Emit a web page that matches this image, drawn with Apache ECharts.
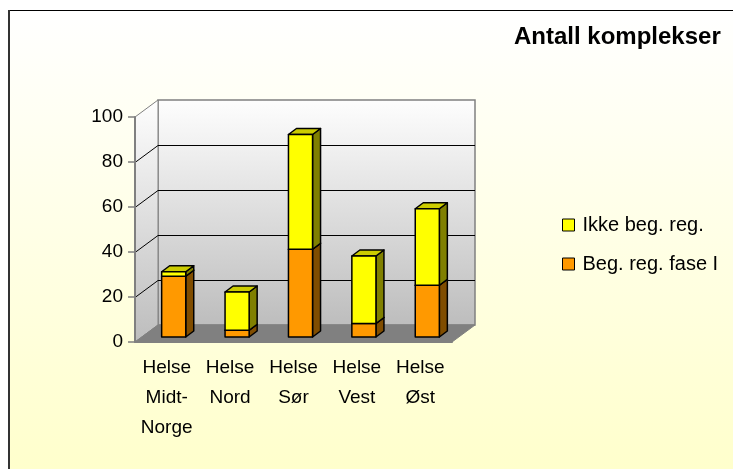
<!DOCTYPE html>
<html>
<head>
<meta charset="utf-8">
<script src="https://cdn.jsdelivr.net/npm/echarts@6/dist/echarts.min.js"></script>
<style>
  html, body { margin: 0; padding: 0; background: #fff; }
  #chart { width: 733px; height: 469px; }
</style>
</head>
<body>
<div id="chart"></div>
<script>
const categories = ['Helse\nMidt-\nNorge', 'Helse\nNord', 'Helse\nSør', 'Helse\nVest', 'Helse\nØst']
const begRegFase1 = [27, 3, 39, 6, 23]
const ikkeBegReg = [2, 17, 51, 30, 34]
const yTicks = [0, 20, 40, 60, 80, 100]

const FONT = "'Liberation Sans', Arial, sans-serif"
// depth of the 3d box (px) and where the bars sit inside it
const DX = 23, DY = -17
const FX = 7, FY = -5
const BDX = 8, BDY = -6

const wallFill = () => new echarts.graphic.LinearGradient(0, 0, 0, 1, [
  { offset: 0, color: '#fefefe' },
  { offset: 1, color: '#bdbdbd' }
])

function renderWalls (params, api) {
  const cs = params.coordSys
  const x0 = cs.x, x1 = cs.x + cs.width
  const yT = cs.y, yB = cs.y + cs.height
  const children = []
  children.push({
    type: 'rect',
    shape: { x: x0 + DX, y: yT + DY, width: cs.width, height: cs.height },
    style: { fill: wallFill(), stroke: '#808080', lineWidth: 1.5 }
  })
  children.push({
    type: 'polygon',
    shape: { points: [[x0, yT], [x0 + DX, yT + DY], [x0 + DX, yB + DY], [x0, yB]] },
    style: { fill: wallFill(), stroke: '#808080', lineWidth: 1 }
  })
  children.push({
    type: 'polygon',
    shape: { points: [[x0, yB], [x1, yB], [x1 + DX, yB + DY], [x0 + DX, yB + DY]] },
    style: { fill: '#808080', stroke: '#808080', lineWidth: 1 }
  })
  yTicks.forEach(v => {
    if (v === yTicks[0] || v === yTicks[yTicks.length - 1]) return
    const y = Math.round(api.coord([0, v])[1]) + 0.5
    children.push({
      type: 'polyline',
      shape: { points: [[x0, y], [x0 + DX, y + DY], [x1 + DX, y + DY]] },
      style: { fill: null, stroke: '#000', lineWidth: 1 }
    })
  })
  return { type: 'group', children }
}

function makeBarRenderer (front, side, top) {
  return function (params, api) {
    const cat = api.value(0), base = api.value(1), val = api.value(2)
    const p0 = api.coord([cat, base])
    const p1 = api.coord([cat, base + val])
    const bw = api.size([1, 0])[0] * 0.38
    const cx = p0[0] + FX
    const l = cx - bw / 2, r = cx + bw / 2
    const yb = p0[1] + FY, yt = p1[1] + FY
    const st = { stroke: '#000', lineWidth: 1.5, lineJoin: 'round' }
    return {
      type: 'group',
      children: [
        { type: 'polygon', shape: { points: [[r, yb], [r + BDX, yb + BDY], [r + BDX, yt + BDY], [r, yt]] }, style: Object.assign({ fill: side }, st) },
        { type: 'polygon', shape: { points: [[l, yt], [r, yt], [r + BDX, yt + BDY], [l + BDX, yt + BDY]] }, style: Object.assign({ fill: top }, st) },
        { type: 'rect', shape: { x: l, y: yt, width: bw, height: yb - yt }, style: Object.assign({ fill: front }, st) }
      ]
    }
  }
}

const orangeData = begRegFase1.map((v, i) => [i, 0, v])
const yellowData = ikkeBegReg.map((v, i) => [i, begRegFase1[i], v])

const chart = echarts.init(document.getElementById('chart'))
chart.setOption({
  animation: false,
  backgroundColor: '#fff',
  textStyle: { fontFamily: FONT },
  graphic: [
    {
      type: 'rect', z: -10, silent: true,
      shape: { x: 9, y: 10, width: 724, height: 459 },
      style: {
        fill: new echarts.graphic.LinearGradient(0, 0, 0, 1, [
          { offset: 0, color: '#ffffff' },
          { offset: 1, color: '#ffffcc' }
        ])
      }
    },
    { type: 'line', z: -9, silent: true, shape: { x1: 9, y1: 10.5, x2: 733, y2: 10.5 }, style: { stroke: '#000', lineWidth: 1 } },
    { type: 'line', z: -9, silent: true, shape: { x1: 9, y1: 10, x2: 9, y2: 469 }, style: { stroke: '#333', lineWidth: 2 } }
  ],
  title: {
    text: 'Antall komplekser',
    left: 514,
    top: 25,
    padding: 0,
    textStyle: { fontFamily: FONT, fontSize: 24, fontWeight: 'bold', color: '#000' }
  },
  legend: {
    orient: 'vertical',
    left: 562,
    top: 215,
    padding: 0,
    itemWidth: 12,
    itemHeight: 12,
    itemGap: 19,
    icon: 'rect',
    data: ['Ikke beg. reg.', 'Beg. reg. fase I'],
    itemStyle: { borderColor: '#000', borderWidth: 1 },
    textStyle: { fontFamily: FONT, fontSize: 20, color: '#000', padding: [0, 0, 0, 3] }
  },
  grid: { left: 135, right: 281, top: 117, bottom: 127, outerBoundsMode: 'none' },
  xAxis: {
    type: 'category',
    data: categories,
    z: 5,
    axisLine: { lineStyle: { color: '#808080', width: 2 } },
    axisTick: { length: 6, lineStyle: { color: '#808080', width: 1.5 } },
    axisLabel: { fontFamily: FONT, fontSize: 19, color: '#000', lineHeight: 30, margin: 11, interval: 0 },
    splitLine: { show: false }
  },
  yAxis: {
    type: 'value',
    min: 0,
    max: 100,
    interval: 20,
    z: 5,
    axisLine: { show: true, lineStyle: { color: '#808080', width: 2 } },
    axisTick: { show: true, length: 7, lineStyle: { color: '#808080', width: 1.5 } },
    axisLabel: { fontFamily: FONT, fontSize: 19, color: '#000', margin: 12 },
    splitLine: { show: false }
  },
  series: [
    {
      type: 'custom',
      name: 'walls',
      z: 1,
      silent: true,
      renderItem: renderWalls,
      data: [[0, 0]]
    },
    {
      type: 'custom',
      name: 'Beg. reg. fase I',
      z: 10,
      itemStyle: { color: '#ff9900' },
      renderItem: makeBarRenderer('#ff9900', '#804d00', '#cc7a00'),
      encode: { x: 0, y: 2 },
      data: orangeData
    },
    {
      type: 'custom',
      name: 'Ikke beg. reg.',
      z: 11,
      itemStyle: { color: '#ffff00' },
      renderItem: makeBarRenderer('#ffff00', '#808000', '#cccc00'),
      encode: { x: 0, y: 2 },
      data: yellowData
    }
  ]
})
</script>
</body>
</html>
